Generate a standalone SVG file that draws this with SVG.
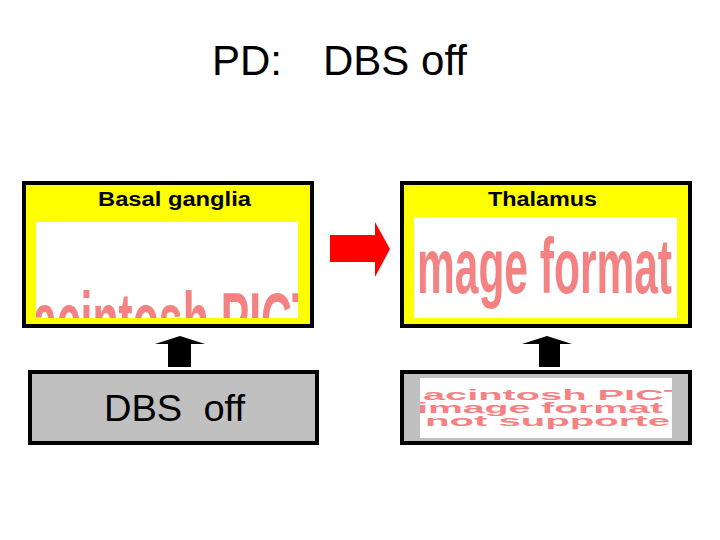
<svg xmlns="http://www.w3.org/2000/svg" width="720" height="540" viewBox="0 0 720 540">
<style>
.lbl{font-family:"Liberation Sans",Arial,sans-serif;fill:#000}
.b{font-weight:bold}
.ph{font-family:"Liberation Sans",Arial,sans-serif;font-weight:bold;fill:#F48282}
.box{stroke:#000;stroke-width:4}
</style>
<defs>
<clipPath id="c1"><rect x="36" y="222" width="262" height="96"/></clipPath>
<clipPath id="c2"><rect x="414" y="217" width="263" height="101"/></clipPath>
<clipPath id="c4"><rect x="420" y="378" width="252" height="60"/></clipPath>
</defs>
<rect width="720" height="540" fill="#fff"/>
<text class="lbl" font-size="42" y="75" xml:space="preserve"><tspan x="212">PD:</tspan><tspan x="323">DBS off</tspan></text>

<g id="basal-ganglia">
<rect class="box" x="24" y="183" width="288" height="143" fill="#FFFF00"/>
<rect x="36" y="222" width="262" height="96" fill="#fff"/>
<g clip-path="url(#c1)"><text class="ph" x="33" y="347" font-size="77" textLength="285" lengthAdjust="spacingAndGlyphs">acintosh PICT</text></g>
<text class="lbl b" x="98" y="206" font-size="20" textLength="153" lengthAdjust="spacingAndGlyphs">Basal ganglia</text>
</g>

<g id="thalamus">
<rect class="box" x="402" y="183" width="288" height="143" fill="#FFFF00"/>
<rect x="414" y="217" width="263" height="101" fill="#fff"/>
<g clip-path="url(#c2)"><text class="ph" x="417" y="293" font-size="77" textLength="255" lengthAdjust="spacingAndGlyphs">mage format</text></g>
<text class="lbl b" x="488" y="206" font-size="20" textLength="109" lengthAdjust="spacingAndGlyphs">Thalamus</text>
</g>

<g id="dbs-off">
<rect class="box" x="30" y="372" width="287" height="71" fill="#C0C0C0"/>
<text class="lbl" x="104" y="421" font-size="36" textLength="141" lengthAdjust="spacingAndGlyphs" xml:space="preserve">DBS  off</text>
</g>

<g id="input-pict">
<rect class="box" x="402" y="372" width="288" height="71" fill="#C0C0C0"/>
<rect x="420" y="378" width="252" height="60" fill="#fff"/>
<g clip-path="url(#c4)">
<text class="ph" x="423" y="400" font-size="14" textLength="265" lengthAdjust="spacingAndGlyphs">acintosh PICT</text>
<text class="ph" x="417" y="413" font-size="14" textLength="246" lengthAdjust="spacingAndGlyphs">image format</text>
<text class="ph" x="425" y="426" font-size="14" textLength="245" lengthAdjust="spacingAndGlyphs">not supporte</text>
</g>
</g>

<g id="connectors">
<polygon points="330,235 375,235 375,222 390,249 375,277 375,262 330,262" fill="#FF0000"/>
<polygon points="168,367 168,344 155,344 180,336 205,344 191,344 191,367" fill="#000"/>
<polygon points="539,367 539,344 522,344 547,336 572,344 560,344 560,367" fill="#000"/>
</g>
</svg>
